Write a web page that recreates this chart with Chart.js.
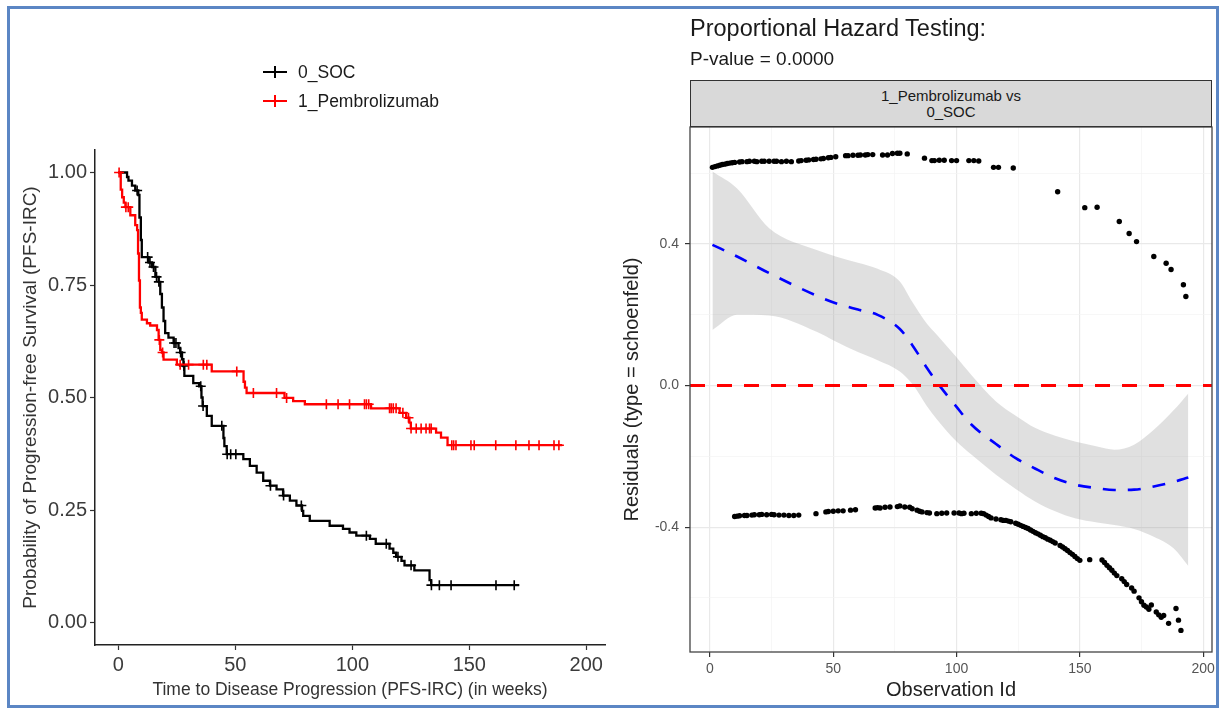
<!DOCTYPE html>
<html>
<head>
<meta charset="utf-8">
<script src="https://cdn.jsdelivr.net/npm/chart.js@4.4.0/dist/chart.umd.min.js"></script>
<style>
  body { margin: 0; background: #fff; font-family: 'Liberation Sans', Arial, sans-serif; }
  #wrap { position: relative; width: 1222px; height: 711px; overflow: hidden; background: #fff; }
  #frame { position: absolute; left: 7px; top: 6px; width: 1206px; height: 696px; border: 3px solid #5b86c4; }
  canvas { position: absolute; top: 0; }
  #kmCanvas { left: 0; }
  #phCanvas { left: 600px; }
  .leg { position: absolute; left: 263px; height: 20px; font-size: 17.5px; line-height: 20px; color: #1a1a1a; }
  .leg .h { position: absolute; left: 0; top: 9px; width: 24px; height: 2px; }
  .leg .v { position: absolute; left: 11px; top: 4px; width: 2px; height: 12px; }
  .leg span.t { position: absolute; left: 35px; top: 0; white-space: nowrap; }
  #title { position: absolute; left: 690px; top: 15px; font-size: 23.5px; color: #1a1a1a; }
  #subtitle { position: absolute; left: 690px; top: 48px; font-size: 19px; color: #1a1a1a; }
  #strip { position: absolute; left: 690px; top: 80px; width: 522px; height: 47px; box-sizing: border-box;
           border: 1px solid #333; background: #d9d9d9; text-align: center; font-size: 15px; line-height: 16px;
           padding-top: 7px; color: #1a1a1a; }
</style>
</head>
<body>
<div id="wrap">
  <canvas id="kmCanvas" width="615" height="711"></canvas>
  <canvas id="phCanvas" width="622" height="711"></canvas>
  <div class="leg" style="top:62px"><div class="h" style="background:#000"></div><div class="v" style="background:#000"></div><span class="t">0_SOC</span></div>
  <div class="leg" style="top:91px"><div class="h" style="background:#f00"></div><div class="v" style="background:#f00"></div><span class="t">1_Pembrolizumab</span></div>
  <div id="title">Proportional Hazard Testing:</div>
  <div id="subtitle">P-value = 0.0000</div>
  <div id="strip">1_Pembrolizumab vs<br>0_SOC</div>
  <div id="frame"></div>
</div>
<script>
// Kaplan-Meier steps (weeks, survival)
const socTime = [0, 3.7, 4.3, 5.8, 7.2, 8.5, 9.0, 9.6, 10.0, 12.9, 14.4, 15.8, 17.2, 17.9, 18.6, 19.3, 20.0, 21.4, 23.6, 25.7,
  26.4, 27.2, 27.8, 28.2, 32.0, 34.5, 35.5, 36.0, 37.8, 39.9, 44.9, 45.3, 46.3, 53.4, 56.2, 59.1, 61.9, 64.8, 67.6, 70.4,
  73.3, 76.1, 78.5, 79.0, 81.8, 90.3, 96.0, 98.8, 101.7, 107.5, 110.0, 115.9, 117.5, 118.7, 121.0, 122.3, 126.5, 133.0, 133.7, 171.3];
const socSurv = [1.0, 0.990, 0.982, 0.971, 0.960, 0.950, 0.900, 0.850, 0.812, 0.800, 0.790, 0.768, 0.757, 0.730, 0.700, 0.670, 0.643, 0.633, 0.621, 0.610,
  0.600, 0.585, 0.570, 0.548, 0.532, 0.525, 0.500, 0.481, 0.459, 0.437, 0.410, 0.392, 0.374, 0.363, 0.348, 0.333, 0.315, 0.304, 0.296, 0.282,
  0.271, 0.260, 0.248, 0.237, 0.226, 0.215, 0.208, 0.200, 0.193, 0.186, 0.175, 0.164, 0.155, 0.146, 0.137, 0.127, 0.116, 0.094, 0.083, 0.083];
const socCensTime = [8.0, 12.5, 13.5, 15.0, 16.3, 17.3, 23.8, 24.6, 26.6, 28.0, 35.2, 36.2, 44.2, 46.5, 48.0, 50.2, 65.0, 70.6, 78.2,
  106.0, 114.5, 119.5, 125.1, 133.8, 137.2, 142.2, 161.4, 169.2];

const pemTime = [0, 1.0, 1.6, 2.3, 3.0, 5.1, 7.2, 8.0, 8.4, 8.8, 9.2, 9.6, 10.0, 12.2, 13.6, 16.5, 17.2, 17.9, 18.6, 19.3,
  25.0, 39.9, 53.5, 54.1, 54.8, 71.0, 74.7, 79.7, 108.0, 120.2, 123.0, 124.4, 125.0, 135.8, 137.9, 140.7, 189.7];
const pemSurv = [1.0, 0.962, 0.945, 0.933, 0.923, 0.905, 0.883, 0.872, 0.82, 0.76, 0.70, 0.688, 0.673, 0.665, 0.66, 0.65, 0.628, 0.606, 0.600, 0.584,
  0.573, 0.558, 0.535, 0.522, 0.510, 0.499, 0.492, 0.485, 0.476, 0.466, 0.455, 0.444, 0.431, 0.422, 0.411, 0.394, 0.394];
const pemCensTime = [0.3, 3.2, 4.2, 17.5, 18.9, 26.4, 30.0, 36.3, 37.8, 50.6, 57.7, 67.6, 71.9, 88.9, 93.9, 98.8, 105.2, 106.0, 107.0,
  115.9, 116.6, 117.5, 118.7, 121.6, 124.0, 125.1, 127.3, 129.4, 131.5, 133.0, 133.7, 142.5, 143.3, 144.3, 150.7, 152.1,
  161.3, 169.9, 175.5, 179.8, 186.2, 188.3];

// Schoenfeld residuals
const pemResId = [1, 2, 3, 4, 5, 6, 7, 8, 9, 10, 12, 13, 15, 16, 18, 19, 21, 22, 24, 26, 27, 29, 31, 33,
  36, 37, 39, 40, 42, 43, 45, 46, 48, 49, 51, 55, 56, 58, 60, 61, 63, 64, 66, 70, 72, 74, 76, 77, 80, 87,
  90, 91, 93, 95, 98, 100, 105, 107, 109, 115, 117, 123, 141, 152, 157, 166, 170, 173, 180, 185, 187, 192, 193];
const pemRes = [0.617, 0.619, 0.621, 0.623, 0.625, 0.626, 0.628, 0.629, 0.630, 0.631, 0.632, 0.633,
  0.633, 0.634, 0.634, 0.633, 0.634, 0.634, 0.634, 0.634, 0.634, 0.633, 0.634, 0.633,
  0.635, 0.636, 0.637, 0.638, 0.639, 0.640, 0.641, 0.642, 0.644, 0.645, 0.647, 0.650, 0.650, 0.651,
  0.651, 0.652, 0.652, 0.653, 0.653, 0.652, 0.652, 0.656, 0.657, 0.657, 0.655, 0.643,
  0.636, 0.636, 0.637, 0.637, 0.636, 0.636, 0.636, 0.636, 0.635, 0.617, 0.617, 0.615,
  0.548, 0.503, 0.504, 0.464, 0.430, 0.407, 0.365, 0.346, 0.328, 0.285, 0.252];
const socResId = [10, 11, 12, 14, 15, 17, 18, 20, 21, 23, 25, 26, 28, 30, 32, 34, 36, 43, 47, 48, 50, 52, 54, 57, 59,
  67, 68, 69, 71, 73, 76, 77, 79, 81, 82, 84, 85, 86, 88, 89, 92, 94, 96, 99, 101, 102, 103, 106, 108, 110,
  111, 112, 113, 114, 116, 118, 119, 120, 121, 122, 124, 125, 126, 127, 128, 129, 130, 131, 132, 133, 134, 135,
  136, 137, 138, 139, 140, 142, 143, 144, 145, 146, 147, 148, 149, 150, 154, 159, 160, 161, 162, 163, 164, 165,
  167, 168, 169, 171, 172, 174, 175, 176, 177, 178, 179, 181, 182, 183, 184, 186, 189, 190, 191];
const socRes = [-0.370, -0.369, -0.368, -0.367, -0.367, -0.366, -0.365, -0.365, -0.364, -0.365, -0.364, -0.365, -0.366, -0.366, -0.367, -0.367, -0.366, -0.362, -0.357, -0.356, -0.355, -0.354, -0.354, -0.352, -0.351,
  -0.346, -0.345, -0.346, -0.344, -0.343, -0.342, -0.340, -0.343, -0.344, -0.348, -0.352, -0.355, -0.357, -0.359, -0.360, -0.362, -0.361, -0.360, -0.360, -0.360, -0.362, -0.361, -0.362, -0.361, -0.361,
  -0.362, -0.366, -0.370, -0.374, -0.377, -0.379, -0.381, -0.381, -0.383, -0.385, -0.389, -0.392, -0.395, -0.398, -0.401, -0.404, -0.408, -0.412, -0.416, -0.419, -0.423, -0.427,
  -0.430, -0.434, -0.437, -0.441, -0.445, -0.452, -0.456, -0.461, -0.466, -0.472, -0.477, -0.483, -0.489, -0.494, -0.492, -0.493, -0.500, -0.508, -0.515, -0.522, -0.530, -0.537,
  -0.546, -0.554, -0.562, -0.572, -0.581, -0.600, -0.611, -0.621, -0.626, -0.632, -0.620, -0.640, -0.648, -0.655, -0.650, -0.672, -0.630, -0.663, -0.692];

// loess fit and its band
const fitId = [1, 11, 24, 43, 51, 60, 68, 77, 82, 88, 92, 100, 106, 116, 124, 132, 140, 148, 157, 164, 172, 180, 188, 194];
const fitMid = [0.398, 0.365, 0.318, 0.255, 0.233, 0.215, 0.200, 0.160, 0.115, 0.050, 0.010, -0.060, -0.110, -0.165, -0.205, -0.235, -0.262, -0.280, -0.290, -0.295, -0.294, -0.285, -0.272, -0.260];
const fitHi = [0.605, 0.557, 0.445, 0.384, 0.365, 0.347, 0.330, 0.294, 0.237, 0.175, 0.144, 0.080, 0.030, -0.045, -0.085, -0.120, -0.142, -0.158, -0.172, -0.181, -0.167, -0.125, -0.070, -0.022];
const fitLo = [0.157, 0.200, 0.198, 0.153, 0.125, 0.095, 0.072, 0.040, 0.005, -0.058, -0.095, -0.158, -0.195, -0.252, -0.292, -0.328, -0.355, -0.375, -0.387, -0.394, -0.405, -0.427, -0.460, -0.510];

Chart.defaults.font.family = "'Liberation Sans', Arial, sans-serif";

function survAt(times, surv, t) {
  let s = surv[0];
  for (let i = 0; i < times.length; i++) if (times[i] <= t) s = surv[i];
  return s;
}
function pts(xs, ys) { return xs.map((x, i) => ({x: x, y: ys[i]})); }

const kmChart = new Chart(document.getElementById('kmCanvas'), {
  type: 'scatter',
  data: {
    datasets: [
      { label: '1_Pembrolizumab censor', data: pemCensTime.map(t => ({x: t, y: survAt(pemTime, pemSurv, t)})),
        pointStyle: 'cross', pointRadius: 5, borderColor: '#ff0000', borderWidth: 1.6 },
      { label: '0_SOC censor', data: socCensTime.map(t => ({x: t, y: survAt(socTime, socSurv, t)})),
        pointStyle: 'cross', pointRadius: 5, borderColor: '#000', borderWidth: 1.6 },
      { label: '1_Pembrolizumab', data: pts(pemTime, pemSurv), showLine: true, stepped: 'before',
        borderColor: '#ff0000', borderWidth: 2.3, pointRadius: 0 },
      { label: '0_SOC', data: pts(socTime, socSurv), showLine: true, stepped: 'before',
        borderColor: '#000', borderWidth: 2.3, pointRadius: 0 }
    ]
  },
  options: {
    responsive: false, animation: false, devicePixelRatio: 1,
    layout: { padding: { top: 150, right: 10, left: 0, bottom: 0 } },
    plugins: { legend: { display: false }, tooltip: { enabled: false } },
    scales: {
      x: {
        type: 'linear', min: -10, max: 208,
        ticks: { stepSize: 50, includeBounds: false, font: { size: 20 }, color: '#3b3b3b', padding: 3 },
        grid: { drawOnChartArea: false, tickLength: 5, tickColor: '#333', tickWidth: 1.2 },
        border: { color: '#222', width: 1.5 },
        title: { display: true, text: 'Time to Disease Progression (PFS-IRC) (in weeks)', font: { size: 17.5 }, color: '#333',
                 padding: { top: 0, bottom: 10 } },
        afterFit(s) { s.height = 66; }
      },
      y: {
        min: -0.05, max: 1.05,
        ticks: { stepSize: 0.25, includeBounds: false, font: { size: 20 }, color: '#3b3b3b', padding: 3,
                 callback: v => v.toFixed(2) },
        grid: { drawOnChartArea: false, tickLength: 5, tickColor: '#333', tickWidth: 1.2 },
        border: { color: '#222', width: 1.5 },
        title: { display: true, text: 'Probability of Progression-free Survival (PFS-IRC)', font: { size: 19 }, color: '#333',
                 padding: { top: 19, bottom: 0 } },
        afterFit(s) { s.width = 95; }
      }
    }
  }
});

const panelBox = {
  id: 'panelBox',
  afterDatasetsDraw(chart) {
    const {ctx, chartArea: a} = chart;
    ctx.save();
    ctx.strokeStyle = '#444';
    ctx.lineWidth = 1.3;
    ctx.strokeRect(a.left, a.top, a.right - a.left, a.bottom - a.top);
    ctx.restore();
  }
};

const isMajorX = v => Math.abs(v) % 50 === 0;
const isMajorY = v => Math.round(v * 10) % 4 === 0;

const phChart = new Chart(document.getElementById('phCanvas'), {
  type: 'scatter',
  data: {
    datasets: [
      { label: 'pembro residuals', data: pts(pemResId, pemRes), pointRadius: 2.7, backgroundColor: '#000', borderWidth: 0 },
      { label: 'soc residuals', data: pts(socResId, socRes), pointRadius: 2.7, backgroundColor: '#000', borderWidth: 0 },
      { label: 'zero', data: [{x: -8.1, y: 0}, {x: 203.6, y: 0}], showLine: true, borderColor: '#ff0000',
        borderWidth: 3, borderDash: [15, 12], pointRadius: 0 },
      { label: 'loess', data: pts(fitId, fitMid), showLine: true, borderColor: '#0000ff', borderWidth: 2.6,
        borderDash: [13, 12], pointRadius: 0, cubicInterpolationMode: 'monotone' },
      { label: 'band hi', data: pts(fitId, fitHi), showLine: true, borderWidth: 0, borderColor: 'rgba(0,0,0,0)',
        pointRadius: 0, cubicInterpolationMode: 'monotone', fill: '+1', backgroundColor: 'rgba(153,153,153,0.3)' },
      { label: 'band lo', data: pts(fitId, fitLo), showLine: true, borderWidth: 0, borderColor: 'rgba(0,0,0,0)',
        pointRadius: 0, cubicInterpolationMode: 'monotone' }
    ]
  },
  options: {
    responsive: false, animation: false, devicePixelRatio: 1,
    layout: { padding: { top: 127, right: 10, left: 0, bottom: 0 } },
    plugins: { legend: { display: false }, tooltip: { enabled: false } },
    scales: {
      x: {
        type: 'linear', min: -8.1, max: 203.6,
        ticks: { stepSize: 25, includeBounds: false, font: { size: 14 }, color: '#555', padding: 4,
                 callback: v => isMajorX(v) ? String(v) : '' },
        grid: {
          color: c => isMajorX(c.tick.value) ? '#e9e9e9' : '#f4f4f4',
          lineWidth: c => isMajorX(c.tick.value) ? 1.2 : 0.7,
          tickLength: 5, tickColor: c => isMajorX(c.tick.value) ? '#333' : 'rgba(0,0,0,0)'
        },
        border: { display: false },
        title: { display: true, text: 'Observation Id', font: { size: 20 }, color: '#222', padding: { top: 0, bottom: 9 } },
        afterFit(s) { s.height = 59; }
      },
      y: {
        min: -0.753, max: 0.731,
        ticks: { stepSize: 0.2, includeBounds: false, font: { size: 14 }, color: '#555', padding: 6,
                 callback: v => isMajorY(v) ? v.toFixed(1) : '' },
        grid: {
          color: c => isMajorY(c.tick.value) ? '#e9e9e9' : '#f4f4f4',
          lineWidth: c => isMajorY(c.tick.value) ? 1.2 : 0.7,
          tickLength: 5, tickColor: c => isMajorY(c.tick.value) ? '#333' : 'rgba(0,0,0,0)'
        },
        border: { display: false },
        title: { display: true, text: 'Residuals (type = schoenfeld)', font: { size: 20 }, color: '#222', padding: { top: 20, bottom: 0 } },
        afterFit(s) { s.width = 90; }
      }
    }
  },
  plugins: [panelBox]
});
</script>
</body>
</html>
